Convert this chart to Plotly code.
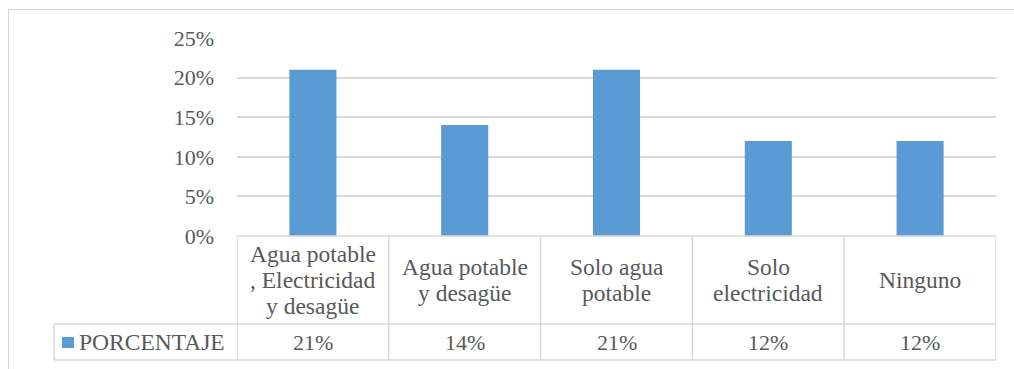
import plotly.graph_objects as go

# Data
categories = [["Agua potable", ", Electricidad", "y desagüe"],
              ["Agua potable", "y desagüe"],
              ["Solo agua", "potable"],
              ["Solo", "electricidad"],
              ["Ninguno"]]
porcentaje = [0.21, 0.14, 0.21, 0.12, 0.12]
series_name = "PORCENTAJE"
y_ticks = [0, 0.05, 0.10, 0.15, 0.20, 0.25]

W, H = 1014, 369
BAR = "#5b9bd5"
GRID = "#d9d9d9"
TXT = "#595959"
FONT = "Liberation Serif"
TABLE_SIZE = 23.5
TICK_SIZE = 22
LINE_STEP = 26

def py(p):
    """pixel row -> paper y"""
    return 1 - p / H

def px(p):
    """pixel column -> paper x"""
    return p / W

plot_top, plot_bottom = 38, 236
row1_bottom, row2_bottom = 324, 360
plot_left, plot_right = 237, 996
legend_left = 54

x_idx = list(range(len(categories)))

fig = go.Figure()
fig.add_trace(go.Bar(x=x_idx, y=porcentaje, marker_color=BAR,
                     marker_line_width=0, name=series_name, showlegend=False))

shapes = []
line = dict(color=GRID, width=1.5)
# data table: column separators on category boundaries
for i in range(len(categories) + 1):
    shapes.append(dict(type="line", xref="x", yref="paper",
                       x0=i - 0.5, x1=i - 0.5,
                       y0=py(plot_bottom), y1=py(row2_bottom), line=line))
# data table: row lines under the category columns
for r in (plot_bottom, row1_bottom, row2_bottom):
    shapes.append(dict(type="line", xref="x", yref="paper",
                       x0=-0.5, x1=len(categories) - 0.5,
                       y0=py(r), y1=py(r), line=line))
# series (legend) cell
for r in (row1_bottom, row2_bottom):
    shapes.append(dict(type="line", xref="paper", yref="paper",
                       x0=px(legend_left), x1=px(plot_left),
                       y0=py(r), y1=py(r), line=line))
shapes.append(dict(type="line", xref="paper", yref="paper",
                   x0=px(legend_left), x1=px(legend_left),
                   y0=py(row1_bottom), y1=py(row2_bottom), line=line))
shapes.append(dict(type="rect", xref="paper", yref="paper",
                   x0=px(62), x1=px(74), y0=py(348), y1=py(337),
                   fillcolor=BAR, line=dict(width=0)))
# chart area frame (left and top edges)
shapes.append(dict(type="line", xref="paper", yref="paper",
                   x0=px(8.5), x1=px(8.5), y0=py(9), y1=0,
                   line=dict(color=GRID, width=1)))
shapes.append(dict(type="line", xref="paper", yref="paper",
                   x0=px(8.5), x1=1, y0=py(9.5), y1=py(9.5),
                   line=dict(color=GRID, width=1)))

annotations = []
row1_mid = (plot_bottom + row1_bottom) / 2
row2_mid = (row1_bottom + row2_bottom) / 2
for i, (lines, v) in enumerate(zip(categories, porcentaje)):
    n = len(lines)
    for k, txt in enumerate(lines):
        yc = row1_mid + (k - (n - 1) / 2) * LINE_STEP
        annotations.append(dict(x=i, xref="x", y=py(yc), yref="paper",
                                text=txt, showarrow=False,
                                font=dict(family=FONT, size=TABLE_SIZE, color=TXT),
                                xanchor="center", yanchor="middle"))
    annotations.append(dict(x=i, xref="x", y=py(row2_mid), yref="paper",
                            text=f"{v:.0%}", showarrow=False,
                            font=dict(family=FONT, size=TICK_SIZE, color=TXT),
                            xanchor="center", yanchor="middle"))
annotations.append(dict(x=px(77), xref="paper", y=py(row2_mid), yref="paper",
                        text=series_name, showarrow=False,
                        font=dict(family=FONT, size=TABLE_SIZE, color=TXT),
                        xanchor="left", yanchor="middle"))

fig.update_layout(
    width=W, height=H, autosize=False,
    margin=dict(l=0, r=0, t=0, b=0, pad=0, autoexpand=False),
    paper_bgcolor="white", plot_bgcolor="white",
    bargap=0.69,
    showlegend=False,
    shapes=shapes,
    annotations=annotations,
    font=dict(family=FONT, size=TICK_SIZE, color=TXT),
    xaxis=dict(domain=[px(plot_left), px(plot_right)],
               range=[-0.5, len(categories) - 0.5], automargin=False,
               showticklabels=False, showgrid=False, zeroline=False,
               showline=False, ticks=""),
    yaxis=dict(domain=[py(plot_bottom), py(plot_top)], automargin=False,
               range=[0, 0.25], tickvals=y_ticks, tickformat=".0%",
               showgrid=True, gridcolor=GRID, gridwidth=1.5,
               zeroline=False, showline=False, ticks="",
               ticklabelstandoff=22,
               tickfont=dict(family=FONT, size=TICK_SIZE, color=TXT)),
)

fig.write_html("out.html")
